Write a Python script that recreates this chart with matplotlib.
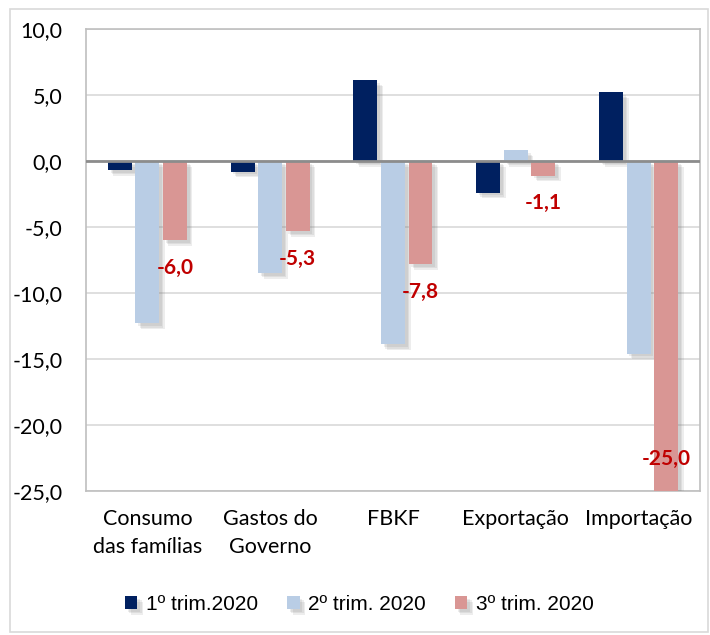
import numpy as np
import matplotlib
matplotlib.use("Agg")
import matplotlib.pyplot as plt
import matplotlib.patheffects as pe
from matplotlib.patches import Rectangle

categorias = ["Consumo\ndas famílias", "Gastos do\nGoverno", "FBKF", "Exportação", "Importação"]
series = ["1º trim.2020", "2º trim. 2020", "3º trim. 2020"]
tri1 = [-0.7, -0.8, 6.1, -2.4, 5.2]
tri2 = [-12.3, -8.5, -13.9, 0.8, -14.6]
tri3 = [-6.0, -5.3, -7.8, -1.1, -25.0]
cores = ["#002060", "#B9CDE5", "#D99694"]
yticks = [10, 5, 0, -5, -10, -15, -20, -25]

plt.rcParams["font.family"] = ["Lato", "DejaVu Sans"]


def fmt(v):
    return f"{v:.1f}".replace(".", ",")


def main():
    fig = plt.figure(figsize=(7.1, 6.35), dpi=100)
    ax = fig.add_axes([0.121, 0.2268, 0.865, 0.7275])

    # moldura externa
    fig.patches.append(Rectangle((0.014, 0.005), 0.983, 0.981, transform=fig.transFigure,
                                 fill=False, edgecolor="#D9D9D9", linewidth=1.2))

    x = np.arange(len(categorias))
    largura = 0.195
    passo = 0.224
    # sombra suave: várias camadas deslocadas
    sombra = [pe.SimplePatchShadow(offset=(d, -d), shadow_rgbFace="#707070", alpha=0.12)
              for d in (4, 3, 2)] + [pe.Normal()]
    for i, (vals, cor) in enumerate(zip([tri1, tri2, tri3], cores)):
        barras = ax.bar(x + (i - 1) * passo, vals, largura, color=cor, label=series[i],
                        zorder=3)
        for b in barras:
            b.set_path_effects(sombra)

    ymin, ymax = -25, 10
    for xi, v in zip(x, tri3):
        y = max(v - 2.1, ymin + 2.4)
        ax.text(xi + passo, y, fmt(v), ha="center", va="center", color="#C00000",
                fontsize=15, fontweight="bold", zorder=5)

    ax.axhline(0, color="#8C8C8C", linewidth=2, zorder=4)
    ax.set_ylim(ymin, ymax)
    ax.set_xlim(-0.5, len(categorias) - 0.5)
    ax.set_yticks(yticks)
    ax.set_yticklabels([fmt(t) for t in yticks], fontsize=15.5)
    ax.set_xticks(x)
    ax.set_xticklabels(categorias, fontsize=15.5, linespacing=1.5)
    ax.tick_params(axis="y", length=0, pad=17)
    ax.tick_params(axis="x", length=0, pad=13)
    ax.grid(axis="y", color="#D9D9D9", linewidth=1.2, zorder=0)
    for s in ax.spines.values():
        s.set_color("#BFBFBF")
        s.set_linewidth(1.2)

    fig.legend(loc="center", bbox_to_anchor=(0.506, 0.048), ncol=3, frameon=False,
               prop={"family": ["Liberation Sans", "DejaVu Sans"], "size": 15},
               handlelength=0.6, handleheight=0.6, handletextpad=0.4,
               columnspacing=1.4)

    fig.savefig("out.png", dpi=100)


if __name__ == "__main__":
    main()
